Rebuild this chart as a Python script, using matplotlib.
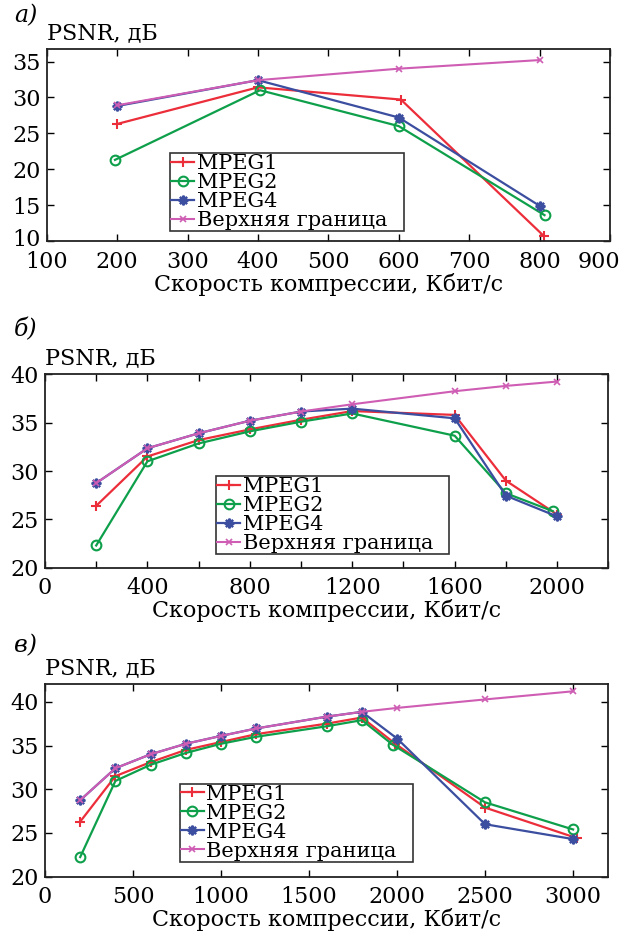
import matplotlib
matplotlib.use("Agg")
import matplotlib.pyplot as plt
from matplotlib.ticker import FixedLocator, FixedFormatter
from matplotlib.transforms import ScaledTranslation

plt.rcParams['font.family'] = ['DejaVu Serif']
plt.rcParams['font.size'] = 16

# --- panel a: 100..900 Kbit/s
a_upper_x = [200, 400, 600, 800]
a_upper_y = [28.9, 32.4, 34.0, 35.2]
a_mpeg1_x = [200, 400, 603, 806]
a_mpeg1_y = [26.3, 31.4, 29.7, 10.7]
a_mpeg2_x = [197, 403, 600, 807]
a_mpeg2_y = [21.3, 31.0, 26.0, 13.6]
a_mpeg4_x = [200, 400, 600, 800]
a_mpeg4_y = [28.8, 32.4, 27.2, 14.9]

# --- panel b: up to 2000 Kbit/s
b_x = [200, 400, 600, 800, 1000, 1200, 1600, 1800, 2000]
b_mpeg2_x = [200, 400, 600, 800, 1000, 1200, 1600, 1800, 1983]
b_upper_y = [28.75, 32.35, 33.9, 35.2, 36.15, 36.9, 38.25, 38.8, 39.25]
b_mpeg1_y = [26.4, 31.5, 33.2, 34.3, 35.3, 36.2, 35.8, 29.0, 25.5]
b_mpeg2_y = [22.3, 31.0, 32.85, 34.1, 35.1, 35.95, 33.65, 27.7, 25.85]
b_mpeg4_y = [28.75, 32.35, 33.9, 35.2, 36.15, 36.45, 35.45, 27.45, 25.3]

# --- panel c: up to 3000 Kbit/s
c_x = [200, 400, 600, 800, 1000, 1200, 1600, 1800, 2000, 2500, 3000]
c_mpeg1_x = [200, 400, 600, 800, 1000, 1200, 1600, 1800, 1990, 2500, 3023]
c_mpeg2_x = [200, 400, 600, 800, 1000, 1200, 1600, 1800, 1975, 2500, 3000]
c_upper_y = [28.75, 32.4, 34.0, 35.2, 36.1, 36.95, 38.3, 38.85, 39.3, 40.27, 41.2]
c_mpeg1_y = [26.3, 31.5, 33.1, 34.5, 35.4, 36.3, 37.5, 38.2, 35.2, 27.9, 24.4]
c_mpeg2_y = [22.25, 30.95, 32.8, 34.15, 35.2, 36.0, 37.2, 37.9, 35.1, 28.5, 25.4]
c_mpeg4_y = [28.75, 32.4, 34.0, 35.2, 36.1, 36.95, 38.3, 38.85, 35.8, 26.0, 24.3]

labels = ['MPEG1', 'MPEG2', 'MPEG4', 'Верхняя граница']
ylabel = 'PSNR, дБ'
xlabel = 'Скорость компрессии, Кбит/с'

RED = '#EC2D3A'
GREEN = '#0E9F4B'
BLUE = '#3B4E9F'
PINK = '#CE5DB3'
ASTERISK = (8, 2, 0)
FS = 16

fig = plt.figure(figsize=(6.31, 9.36), dpi=100)
W, H = 631.0, 936.0


def make_axes(left, top, right, bottom):
    return fig.add_axes([left / W, 1 - bottom / H, (right - left) / W, (bottom - top) / H])


def draw(ax, series, leg_box):
    (x1, y1), (x2, y2), (x4, y4), (xu, yu) = series
    h1, = ax.plot(x1, y1, color=RED, lw=1.6, marker='+', ms=7, mew=1.5)
    h2, = ax.plot(x2, y2, color=GREEN, lw=1.6, marker='o', ms=7, mew=1.5, mfc='none')
    h4, = ax.plot(x4, y4, color=BLUE, lw=1.6, marker=ASTERISK, ms=7, mew=1.6)
    hu, = ax.plot(xu, yu, color=PINK, lw=1.5, marker='x', ms=4, mew=1.2)
    # upper bound drawn over MPEG4 where the two coincide
    hu.set_zorder(2.5)
    h4.set_zorder(2.4)
    leg = ax.legend([h1, h2, h4, hu], labels, loc='lower left',
                    bbox_to_anchor=leg_box, mode='expand', borderaxespad=0,
                    fontsize=15, labelspacing=0.0, borderpad=0.05,
                    handlelength=1.1, handletextpad=0.12, fancybox=False,
                    framealpha=1, edgecolor='#333333')
    leg.get_frame().set_linewidth(1.2)

    ax.tick_params(direction='in', top=True, right=True, length=5, width=1,
                   labelsize=FS)
    ax.tick_params(axis='x', pad=7)
    ax.tick_params(axis='y', pad=4.5)
    for s in ax.spines.values():
        s.set_linewidth(1.3)
        s.set_color('#222222')
    ax.set_xlabel(xlabel, fontsize=FS, labelpad=0)
    ax.text(0.0, 1.025, ylabel, transform=ax.transAxes, ha='left', va='bottom', fontsize=FS)


# а)
ax1 = make_axes(46.7, 49.3, 610, 241)
draw(ax1, [(a_mpeg1_x, a_mpeg1_y), (a_mpeg2_x, a_mpeg2_y),
           (a_mpeg4_x, a_mpeg4_y), (a_upper_x, a_upper_y)],
     (0.219, 0.052, 0.415, 0.496))
ax1.set_xlim(100, 900)
ax1.set_ylim(10, 36.7)
ax1.set_xticks(range(100, 901, 100))
ax1.set_yticks(range(10, 36, 5))
# keep the last tick label inside the figure
last = ax1.get_xticklabels()[-1]
last.set_transform(last.get_transform() + ScaledTranslation(-0.11, 0, fig.dpi_scale_trans))
# lift the bottom y label a little off the x labels
first = ax1.get_yticklabels()[0]
first.set_transform(first.get_transform() + ScaledTranslation(0, 0.03, fig.dpi_scale_trans))

# б)
ax2 = make_axes(45, 374.3, 608.3, 567.7)
draw(ax2, [(b_x, b_mpeg1_y), (b_mpeg2_x, b_mpeg2_y),
           (b_x, b_mpeg4_y), (b_x, b_upper_y)],
     (0.304, 0.07, 0.414, 0.493))
ax2.set_xlim(0, 2200)
ax2.set_ylim(20, 40)
b_ticks = list(range(0, 2201, 200))
ax2.xaxis.set_major_locator(FixedLocator(b_ticks))
ax2.xaxis.set_major_formatter(FixedFormatter([str(t) if t % 400 == 0 and t < 2200 else '' for t in b_ticks]))
ax2.set_yticks(range(20, 41, 5))

# в)
ax3 = make_axes(45, 684.3, 608.3, 876.7)
draw(ax3, [(c_mpeg1_x, c_mpeg1_y), (c_mpeg2_x, c_mpeg2_y),
           (c_x, c_mpeg4_y), (c_x, c_upper_y)],
     (0.239, 0.078, 0.415, 0.489))
ax3.set_xlim(0, 3200)
ax3.set_ylim(20, 42)
ax3.set_xticks(range(0, 3001, 500))
ax3.set_yticks(range(20, 41, 5))

for txt, y in [('а)', 16), ('б)', 330), ('в)', 646)]:
    fig.text(14 / W, 1 - y / H, txt, style='italic', fontsize=17, ha='left', va='center')

fig.savefig('out.png', dpi=100, facecolor='white')
